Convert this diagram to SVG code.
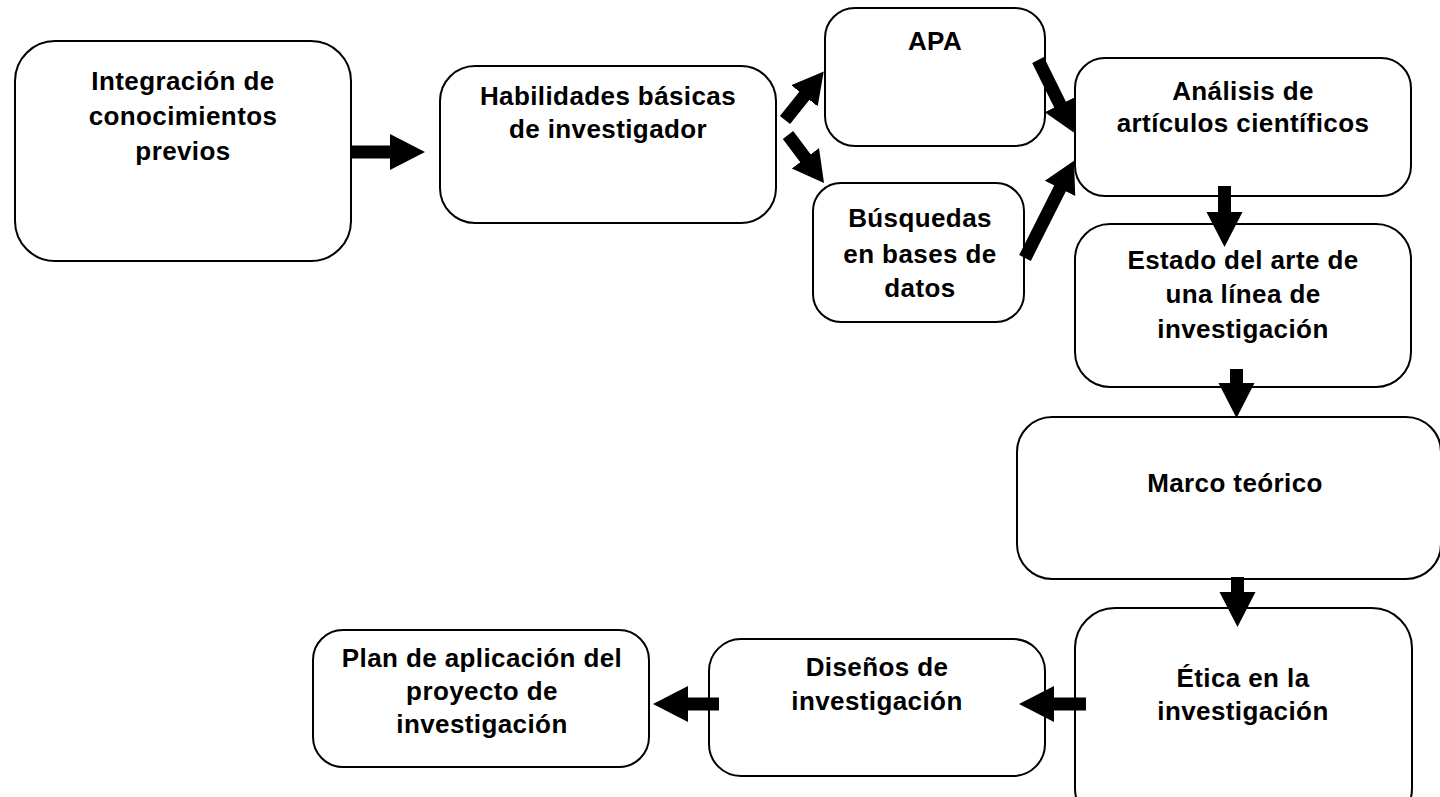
<svg xmlns="http://www.w3.org/2000/svg" width="1440" height="797" viewBox="0 0 1440 797">
<style>
.box{fill:#fff;stroke:#000;stroke-width:2}
.t{font-family:"Liberation Sans",Arial,sans-serif;font-weight:bold;font-size:26px;letter-spacing:0.4px;text-anchor:middle;fill:#000}
.cs{stroke:#000;stroke-width:13;fill:none}
.cd{stroke:#000;stroke-width:13;fill:none}
</style>
<defs>
<marker id="hs" markerUnits="userSpaceOnUse" viewBox="0 -19 36 38" markerWidth="36" markerHeight="38" refX="1" refY="0" orient="auto">
<path d="M0,-18 L35,0 L0,18 Z" fill="#000"/>
</marker>
<marker id="hd" markerUnits="userSpaceOnUse" viewBox="0 -18 32 36" markerWidth="32" markerHeight="36" refX="1" refY="0" orient="auto">
<path d="M0,-17 L31,0 L0,17 Z" fill="#000"/>
</marker>
</defs>
<rect width="1440" height="797" fill="#fff"/>

<g id="n1">
<rect class="box" x="15" y="41" width="336" height="220" rx="40"/>
<text class="t" x="183" y="90">Integración de</text>
<text class="t" x="183" y="125">conocimientos</text>
<text class="t" x="183" y="160">previos</text>
</g>

<g id="n2">
<rect class="box" x="440" y="66" width="336" height="157" rx="35"/>
<text class="t" x="608" y="105">Habilidades básicas</text>
<text class="t" x="608" y="138">de investigador</text>
</g>

<g id="n3">
<rect class="box" x="825" y="8" width="220" height="138" rx="30"/>
<text class="t" x="935" y="50">APA</text>
</g>

<g id="n4">
<rect class="box" x="813" y="183" width="211" height="139" rx="28"/>
<text class="t" x="920" y="227">Búsquedas</text>
<text class="t" x="920" y="263">en bases de</text>
<text class="t" x="920" y="297">datos</text>
</g>

<g id="n5">
<rect class="box" x="1075" y="58" width="336" height="138" rx="30"/>
<text class="t" x="1243" y="100">Análisis de</text>
<text class="t" x="1243" y="132">artículos científicos</text>
</g>

<g id="n6">
<rect class="box" x="1075" y="224" width="336" height="163" rx="35"/>
<text class="t" x="1243" y="269">Estado del arte de</text>
<text class="t" x="1243" y="303">una línea de</text>
<text class="t" x="1243" y="338">investigación</text>
</g>

<g id="n7">
<rect class="box" x="1017" y="417" width="424" height="162" rx="35"/>
<text class="t" x="1235" y="492">Marco teórico</text>
</g>

<g id="n8">
<rect class="box" x="1075" y="608" width="337" height="220" rx="40"/>
<text class="t" x="1243" y="687">Ética en la</text>
<text class="t" x="1243" y="720">investigación</text>
</g>

<g id="n9">
<rect class="box" x="709" y="639" width="336" height="137" rx="32"/>
<text class="t" x="877" y="676">Diseños de</text>
<text class="t" x="877" y="710">investigación</text>
</g>

<g id="n10">
<rect class="box" x="313" y="630" width="336" height="137" rx="30"/>
<text class="t" x="482" y="667">Plan de aplicación del</text>
<text class="t" x="482" y="700">proyecto de</text>
<text class="t" x="482" y="733">investigación</text>
</g>

<g id="connectors">
<line class="cs" x1="351" y1="152" x2="391" y2="152" stroke-width="15" marker-end="url(#hs)"/>
<line class="cd" x1="785" y1="120" x2="805" y2="95" marker-end="url(#hd)"/>
<line class="cd" x1="788" y1="135" x2="806" y2="159" marker-end="url(#hd)"/>
<line class="cd" x1="1038" y1="60" x2="1060.5" y2="105.5" marker-end="url(#hd)"/>
<line class="cd" x1="1025" y1="258" x2="1060.5" y2="187.5" marker-end="url(#hd)"/>
<line class="cs" x1="1224.5" y1="186" x2="1224.5" y2="213" stroke-width="12" marker-end="url(#hs)"/>
<line class="cs" x1="1236.5" y1="369" x2="1236.5" y2="384" stroke-width="12" marker-end="url(#hs)"/>
<line class="cs" x1="1237.5" y1="577" x2="1237.5" y2="593" stroke-width="12" marker-end="url(#hs)"/>
<line class="cs" x1="1086" y1="704" x2="1053" y2="704" stroke-width="13" marker-end="url(#hs)"/>
<line class="cs" x1="719" y1="704" x2="687" y2="704" stroke-width="13" marker-end="url(#hs)"/>
</g>
</svg>
